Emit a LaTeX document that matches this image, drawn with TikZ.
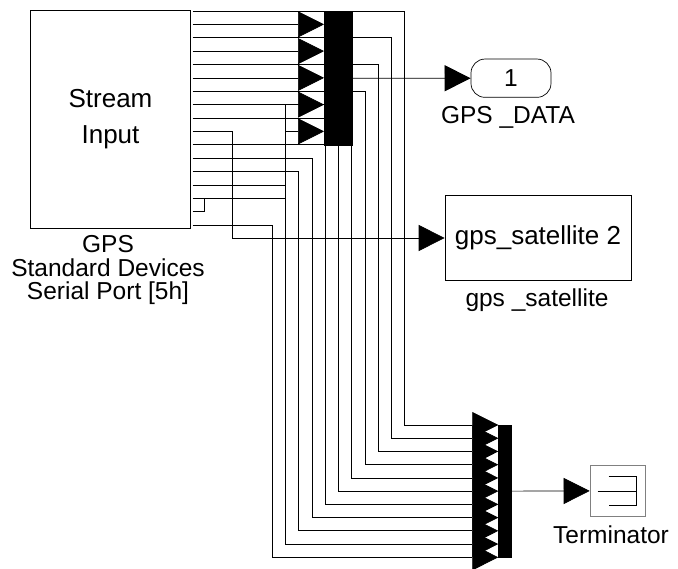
\documentclass[tikz,border=0pt]{standalone}
\usepackage{fontspec}
\setmainfont{Liberation Sans}
\usetikzlibrary{arrows.meta}

\begin{document}
\begin{tikzpicture}[x=1pt,y=-1pt,line width=.7pt,
    font=\fontsize{24.5}{24}\selectfont,
    sig/.style={-{Triangle[length=26pt,width=26pt]}}]

      \useasboundingbox (0,0) rectangle (678,569);

      \begin{scope}[every node/.style={draw,rectangle,inner sep=0pt}]
        \node (src)  at (110.5,119.5)  [minimum width=160.4pt,minimum height=218pt,align=center,font=\fontsize{26}{36}\selectfont] {Stream\\Input};
        \node (mux1) at (338.35,78.35) [fill=black,minimum width=28.7pt,minimum height=134.7pt] {};
        \node (mux2) at (504.65,491.15) [fill=black,minimum width=12.7pt,minimum height=132.3pt] {};
        \node (out)  at (511,78.2)     [rounded corners=14pt,minimum width=80pt,minimum height=38.3pt] {1};
        \node (sat)  at (538,238)      [minimum width=186pt,minimum height=85.4pt,font=\fontsize{26}{26}\selectfont] {gps\_satellite 2};
        \node (term) at (617.5,490.85) [draw=gray,minimum width=55pt,minimum height=51.7pt] {};
      \end{scope}

      \begin{scope}[every node/.style={align=center,font=\fontsize{24.5}{23.5}\selectfont}]
        \node (srclabel)  at (108,270) {GPS\\Standard Devices\\Serial Port [5h]};
        \node (outlabel)  at (508,117) {GPS \_DATA};
        \node (satlabel)  at (537,300) {gps \_satellite};
        \node (termlabel) at (611,535) {Terminator};
      \end{scope}

      \draw ([shift={(-9,-14.5)}]term.center) -- ++(27.5,0) -- ++(0,29) -- ++(-27.5,0);
      \draw ([shift={(-20,0)}]term.center) -- ++(38.5,0);

      \foreach \i in {1,...,17}
        \coordinate (p\i) at (192.7,{11+13.375*(\i-1)});
      \foreach \k in {1,...,5}
        \coordinate (a\k) at (324,{24.375+26.75*(\k-1)});
      \foreach \k in {1,...,11} {
        \coordinate (b\k) at (498.3,{425+13.23*(\k-1)});
        \coordinate (v\k) at ({404.7-13.24*(\k-1)},0);
      }
      \coordinate (g) at (232.3,0);

      \begin{scope}
        \foreach \s/\k in {1/1,3/2,5/3,7/4,9/5,11/6,8/7,12/8,13/9,14/10,17/11}
          \draw[sig] (p\s) -| (v\k |- b\k) -- (b\k);
        \foreach \s/\k in {2/1,4/2,6/3}
          \draw[sig] (p\s) -- (a\k);
        \draw[sig] (p15) -| (v10 |- a4) -- (a4);
        \draw[sig] (v10 |- a5) -- (a5);
        \draw (p16) -- ++(11.6,0) |- (p15);
        \draw[sig] (p10) -| (g |- sat.west) -- (sat.west);
        \draw[sig] (mux1) -- (out);
        \draw[sig] (mux2) -- (term);
      \end{scope}

    \end{tikzpicture}
\end{document}
